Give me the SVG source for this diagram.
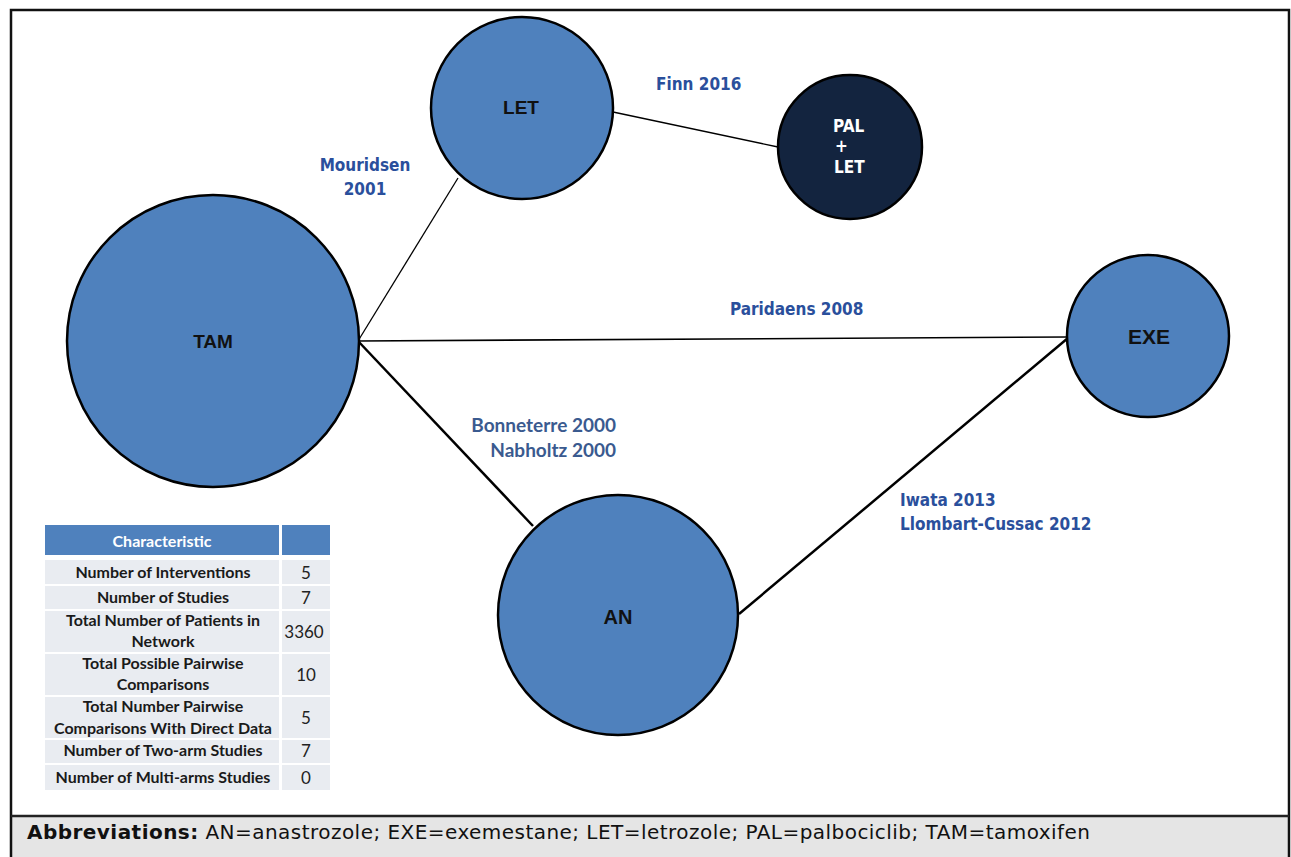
<svg xmlns="http://www.w3.org/2000/svg" width="1291" height="857" viewBox="0 0 1291 857">
<style>
.node{fill:#4f81bd;stroke:#000;stroke-width:2.5}
.dark{fill:#13243f;stroke:#000;stroke-width:2.5}
.nl{font-family:"Liberation Sans",Arial,sans-serif;font-weight:bold;fill:#111;text-anchor:middle}
.pl{font-family:"DejaVu Sans Condensed","DejaVu Sans",sans-serif;font-weight:bold;fill:#fff;font-size:17px}
.el{font-family:"DejaVu Sans Condensed","DejaVu Sans",sans-serif;font-weight:bold;fill:#2a4f9c;font-size:17px}
.el2{font-family:Lato,"Liberation Sans",sans-serif;font-weight:bold;fill:#3a5a8f;font-size:19px;text-anchor:end}
.tt{font-family:Lato,"Liberation Sans",sans-serif;font-weight:bold;fill:#1a1a1a;font-size:16px;text-anchor:middle}
.tv{font-family:Lato,"Liberation Sans",sans-serif;fill:#222;font-size:17px;text-anchor:middle}
.row{fill:#e9ecf1}
.ft{font-family:"DejaVu Sans","Liberation Sans",sans-serif;font-size:20px;fill:#111}
</style>
<rect x="0" y="0" width="1291" height="857" fill="#fff"/>
<rect x="11" y="817" width="1278" height="40" fill="#e5e5e5"/>
<path d="M11,857 V10 H1289 V857" fill="none" stroke="#111" stroke-width="2.5"/>
<line x1="11" y1="816" x2="1289" y2="816" stroke="#222" stroke-width="2.5"/>
<g id="connectors" stroke="#000" fill="none">
<line x1="358" y1="341" x2="458" y2="178" stroke-width="1.3"/>
<line x1="358" y1="341" x2="1068" y2="337" stroke-width="1.6"/>
<line x1="358" y1="341" x2="533" y2="526" stroke-width="2.5"/>
<line x1="739" y1="614" x2="1068" y2="338" stroke-width="2.5"/>
<line x1="613" y1="112" x2="778" y2="147" stroke-width="1.3"/>
</g>
<g id="edge-labels">
<text class="el" x="656" y="90">Finn 2016</text>
<text class="el" x="365" y="171" text-anchor="middle">Mouridsen</text>
<text class="el" x="365" y="195" text-anchor="middle">2001</text>
<text class="el" x="730" y="315">Paridaens 2008</text>
<text class="el2" x="616" y="432">Bonneterre 2000</text>
<text class="el2" x="616" y="457">Nabholtz 2000</text>
<text class="el" x="900" y="506">Iwata 2013</text>
<text class="el" x="900" y="530">Llombart-Cussac 2012</text>
</g>
<g id="node-TAM"><circle class="node" cx="213" cy="341" r="146"/><text class="nl" x="213" y="348" font-size="19">TAM</text></g>
<g id="node-LET"><circle class="node" cx="522" cy="108" r="91"/><text class="nl" x="521" y="114" font-size="19">LET</text></g>
<g id="node-PAL-LET"><circle class="dark" cx="850" cy="147" r="72"/><text class="pl" x="833" y="132">PAL</text><text class="pl" x="835" y="152">+</text><text class="pl" x="834" y="173">LET</text></g>
<g id="node-EXE"><circle class="node" cx="1148" cy="336" r="81"/><text class="nl" x="1149" y="344" font-size="21">EXE</text></g>
<g id="node-AN"><circle class="node" cx="618" cy="615" r="120"/><text class="nl" x="618" y="624" font-size="20">AN</text></g>
<g id="table">
<rect x="45" y="525" width="234" height="30" fill="#4f81bd"/>
<rect x="282" y="525" width="48" height="30" fill="#4f81bd"/>
<text x="162" y="547" font-family="Lato,'Liberation Sans',sans-serif" font-weight="bold" font-size="16" fill="#fff" text-anchor="middle">Characteristic</text>
<rect class="row" x="45" y="560" width="234" height="24"/><rect class="row" x="282" y="560" width="48" height="24"/>
<rect class="row" x="45" y="586" width="234" height="23"/><rect class="row" x="282" y="586" width="48" height="23"/>
<rect class="row" x="45" y="611" width="234" height="41"/><rect class="row" x="282" y="611" width="48" height="41"/>
<rect class="row" x="45" y="654" width="234" height="41"/><rect class="row" x="282" y="654" width="48" height="41"/>
<rect class="row" x="45" y="697" width="234" height="41"/><rect class="row" x="282" y="697" width="48" height="41"/>
<rect class="row" x="45" y="740" width="234" height="23"/><rect class="row" x="282" y="740" width="48" height="23"/>
<rect class="row" x="45" y="765" width="234" height="25"/><rect class="row" x="282" y="765" width="48" height="25"/>
<text class="tt" x="163" y="578">Number of Interventions</text><text class="tv" x="306" y="579">5</text>
<text class="tt" x="163" y="603">Number of Studies</text><text class="tv" x="306" y="604">7</text>
<text class="tt" x="163" y="626">Total Number of Patients in</text><text class="tt" x="163" y="647">Network</text><text class="tv" x="304" y="638">3360</text>
<text class="tt" x="163" y="669">Total Possible Pairwise</text><text class="tt" x="163" y="690">Comparisons</text><text class="tv" x="306" y="681">10</text>
<text class="tt" x="163" y="712">Total Number Pairwise</text><text class="tt" x="163" y="734">Comparisons With Direct Data</text><text class="tv" x="306" y="724">5</text>
<text class="tt" x="163" y="756">Number of Two-arm Studies</text><text class="tv" x="306" y="757">7</text>
<text class="tt" x="163" y="783">Number of Multi-arms Studies</text><text class="tv" x="306" y="784">0</text>
</g>
<g id="footer">
<text class="ft" x="27" y="839" textLength="1063" lengthAdjust="spacing"><tspan font-weight="bold">Abbreviations:</tspan> AN=anastrozole; EXE=exemestane; LET=letrozole; PAL=palbociclib; TAM=tamoxifen</text>
</g>
</svg>
